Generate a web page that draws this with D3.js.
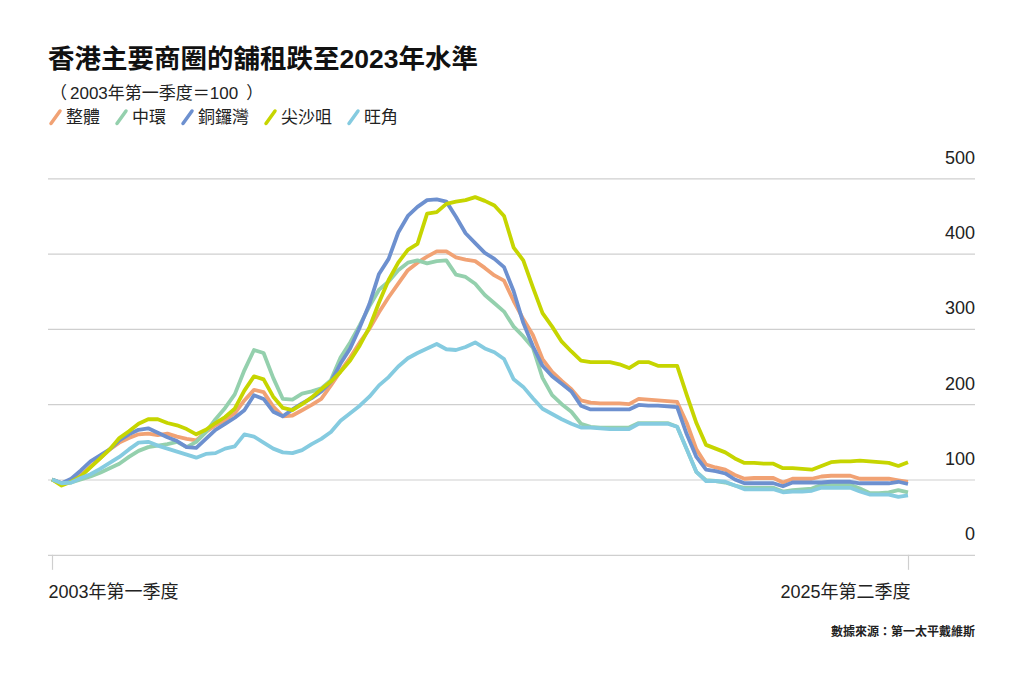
<!DOCTYPE html>
<html>
<head>
<meta charset="utf-8">
<script src="https://cdn.jsdelivr.net/npm/d3@7"></script>
<style>
  body { margin: 0; background: #fff; }
  svg text { font-family: "Liberation Sans", "Noto Sans CJK TC", sans-serif; }
</style>
</head>
<body>
<svg id="chart" width="1024" height="683"></svg>
<script>
// quarters 2003Q1 .. 2025Q2
const years = d3.range(2003, 2026)
const quarters = years.flatMap(y => [1, 2, 3, 4].map(q => `${y}Q${q}`)).slice(0, 90)

const seriesNames = ["整體", "中環", "銅鑼灣", "尖沙咀", "旺角"]
const seriesColors = ["#f1a274", "#94d0ad", "#6d90cf", "#c6d500", "#85cbe0"]

const overall = [100, 95, 99, 106, 117, 128, 140, 149, 155, 160, 161, 159, 161, 157, 154, 152, 163, 172, 179, 188,
  205, 219, 216, 197, 184, 185, 192, 199, 207, 225, 244, 262, 282, 300, 322, 342, 360, 378, 388, 396,
  403, 403, 395, 392, 390, 381, 371, 364, 337, 313, 292, 260, 243, 231, 220, 205, 202, 201, 201, 201,
  200, 207, 206, 205, 204, 203, 175, 140, 120, 116, 113, 106, 101, 102, 102, 102, 96, 101, 101, 101,
  104, 105, 105, 105, 101, 101, 101, 101, 99, 97]

const central = [100, 95, 96, 100, 104, 109, 115, 121, 130, 138, 143, 145, 147, 150, 143, 150, 163, 180, 195, 213,
  245, 272, 268, 235, 207, 206, 214, 217, 221, 232, 262, 282, 305, 330, 352, 363, 378, 388, 391, 387,
  390, 391, 372, 369, 360, 345, 334, 323, 303, 290, 275, 235, 212, 200, 190, 174, 170, 169, 169, 169,
  169, 175, 175, 175, 175, 170, 140, 110, 99, 98, 96, 92, 89, 89, 89, 89, 84, 86, 87, 88,
  93, 93, 93, 93, 88, 82, 82, 83, 86, 83]

const causewayBay = [100, 95, 101, 112, 124, 132, 140, 152, 160, 166, 168, 162, 156, 151, 143, 142, 154, 166, 174, 182,
  192, 212, 207, 190, 184, 193, 201, 208, 217, 230, 254, 274, 302, 333, 373, 393, 428, 450, 462, 471,
  472, 469, 449, 427, 414, 401, 393, 382, 350, 308, 277, 251, 237, 227, 217, 198, 193, 193, 193, 193,
  193, 199, 198, 198, 197, 196, 160, 130, 113, 111, 108, 100, 95, 95, 95, 95, 91, 96, 96, 96,
  96, 97, 97, 97, 95, 95, 95, 95, 97, 94]

const tsimShaTsui = [100, 92, 97, 104, 116, 128, 140, 155, 164, 174, 180, 180, 175, 172, 167, 160, 166, 175, 183, 194,
  218, 237, 233, 210, 195, 192, 200, 209, 220, 230, 243, 258, 278, 302, 335, 365, 388, 405, 413, 453,
  455, 466, 469, 471, 475, 470, 464, 450, 408, 391, 355, 321, 303, 283, 270, 258, 256, 256, 256, 253,
  248, 256, 256, 251, 251, 251, 212, 175, 146, 141, 136, 128, 122, 122, 121, 121, 115, 115, 114, 113,
  118, 123, 124, 124, 125, 124, 123, 122, 118, 123]

const mongKok = [100, 95, 96, 102, 107, 114, 122, 130, 140, 149, 150, 145, 141, 137, 133, 129, 134, 135, 141, 144,
  160, 157, 149, 141, 136, 135, 139, 147, 154, 163, 178, 188, 198, 210, 225, 236, 250, 261, 268, 274,
  280, 273, 272, 276, 282, 274, 269, 260, 233, 223, 208, 194, 187, 180, 174, 169, 169, 168, 167, 167,
  167, 174, 174, 174, 174, 170, 140, 110, 98, 98, 97, 92, 87, 87, 87, 87, 83, 84, 84, 85,
  89, 89, 89, 89, 84, 80, 80, 80, 77, 79]

const seriesValues = [overall, central, causewayBay, tsimShaTsui, mongKok]

const yTicks = [0, 100, 200, 300, 400, 500]
const xTickLabels = ["2003年第一季度", "2025年第二季度"]

const svg = d3.select("#chart")

const x = d3.scalePoint()
  .domain(quarters)
  .range([52, 908])

const y = d3.scaleLinear()
  .domain([0, 500])
  .range([554.8, 178.3])

const gridLeft = 48, gridRight = 975

// title block
svg.append("text")
  .attr("x", 48)
  .attr("y", 68)
  .style("font-size", "26.5px")
  .style("font-weight", "bold")
  .attr("fill", "#111")
  .text("香港主要商圈的舖租跌至2023年水準")

const sub = svg.append("text")
  .attr("x", 50)
  .attr("y", 99)
  .style("font-size", "17px")
  .attr("fill", "#222")
// [text, font, dx]
const subParts = [
  ["（", "Noto Sans CJK TC", 0],
  ["2003", "Liberation Sans", 3],
  ["年第一季度＝", "Noto Sans CJK TC", 0],
  ["100", "Liberation Sans", 0],
  ["）", "Noto Sans CJK TC", 8]
]
subParts.forEach(([txt, fam, dx]) => {
  sub.append("tspan")
    .attr("dx", dx)
    .style("font-family", `"${fam}"`)
    .text(txt)
})

// legend
let lx = 50
seriesNames.forEach((name, i) => {
  svg.append("line")
    .attr("x1", lx + 1).attr("y1", 123.5)
    .attr("x2", lx + 10).attr("y2", 111)
    .attr("stroke", seriesColors[i])
    .attr("stroke-width", 3.5)
    .attr("stroke-linecap", "round")
  const t = svg.append("text")
    .attr("x", lx + 16)
    .attr("y", 123)
    .style("font-size", "17px")
    .attr("fill", "#222")
    .text(name)
  lx = lx + 16 + t.node().getComputedTextLength() + 16
})

// y grid + labels
const yAxis = svg.append("g")
  .attr("transform", `translate(${gridLeft},0)`)
  .call(d3.axisRight(y).tickValues(yTicks).tickSize(gridRight - gridLeft).tickFormat(d3.format("d")))
yAxis.select(".domain").remove()
yAxis.selectAll(".tick line")
  .attr("stroke", "#cfcfcf")
  .attr("stroke-width", 1.2)
yAxis.selectAll(".tick text")
  .attr("x", gridRight - gridLeft)
  .attr("dy", -15)
  .attr("text-anchor", "end")
  .style("font-size", "18px")
  .attr("fill", "#222")

// x axis
const xAxis = svg.append("g")
  .attr("transform", `translate(0,${y(0)})`)
  .call(d3.axisBottom(x)
    .tickValues([quarters[0], quarters[quarters.length - 1]])
    .tickSize(15)
    .tickFormat((d, i) => xTickLabels[i]))
xAxis.select(".domain").remove()
xAxis.selectAll(".tick line")
  .attr("stroke", "#cfcfcf")
  .attr("stroke-width", 1.2)
xAxis.selectAll(".tick text")
  .attr("y", 28)
  .attr("dy", 15)
  .attr("text-anchor", (d, i) => i === 0 ? "start" : "end")
  .attr("dx", (d, i) => i === 0 ? -4 : 2)
  .style("font-size", "18px")
  .attr("fill", "#222")

// lines
const line = d3.line()
  .x((d, i) => x(quarters[i]))
  .y(d => y(d))

svg.append("g")
  .selectAll("path")
  .data(seriesValues)
  .join("path")
  .attr("d", line)
  .attr("fill", "none")
  .attr("stroke", (d, i) => seriesColors[i])
  .attr("stroke-width", 3.8)
  .attr("stroke-linejoin", "round")

// source
svg.append("text")
  .attr("x", gridRight)
  .attr("y", 636)
  .attr("text-anchor", "end")
  .style("font-size", "12px")
  .style("font-weight", "bold")
  .attr("fill", "#222")
  .text("數據來源：第一太平戴維斯")
</script>
</body>
</html>
